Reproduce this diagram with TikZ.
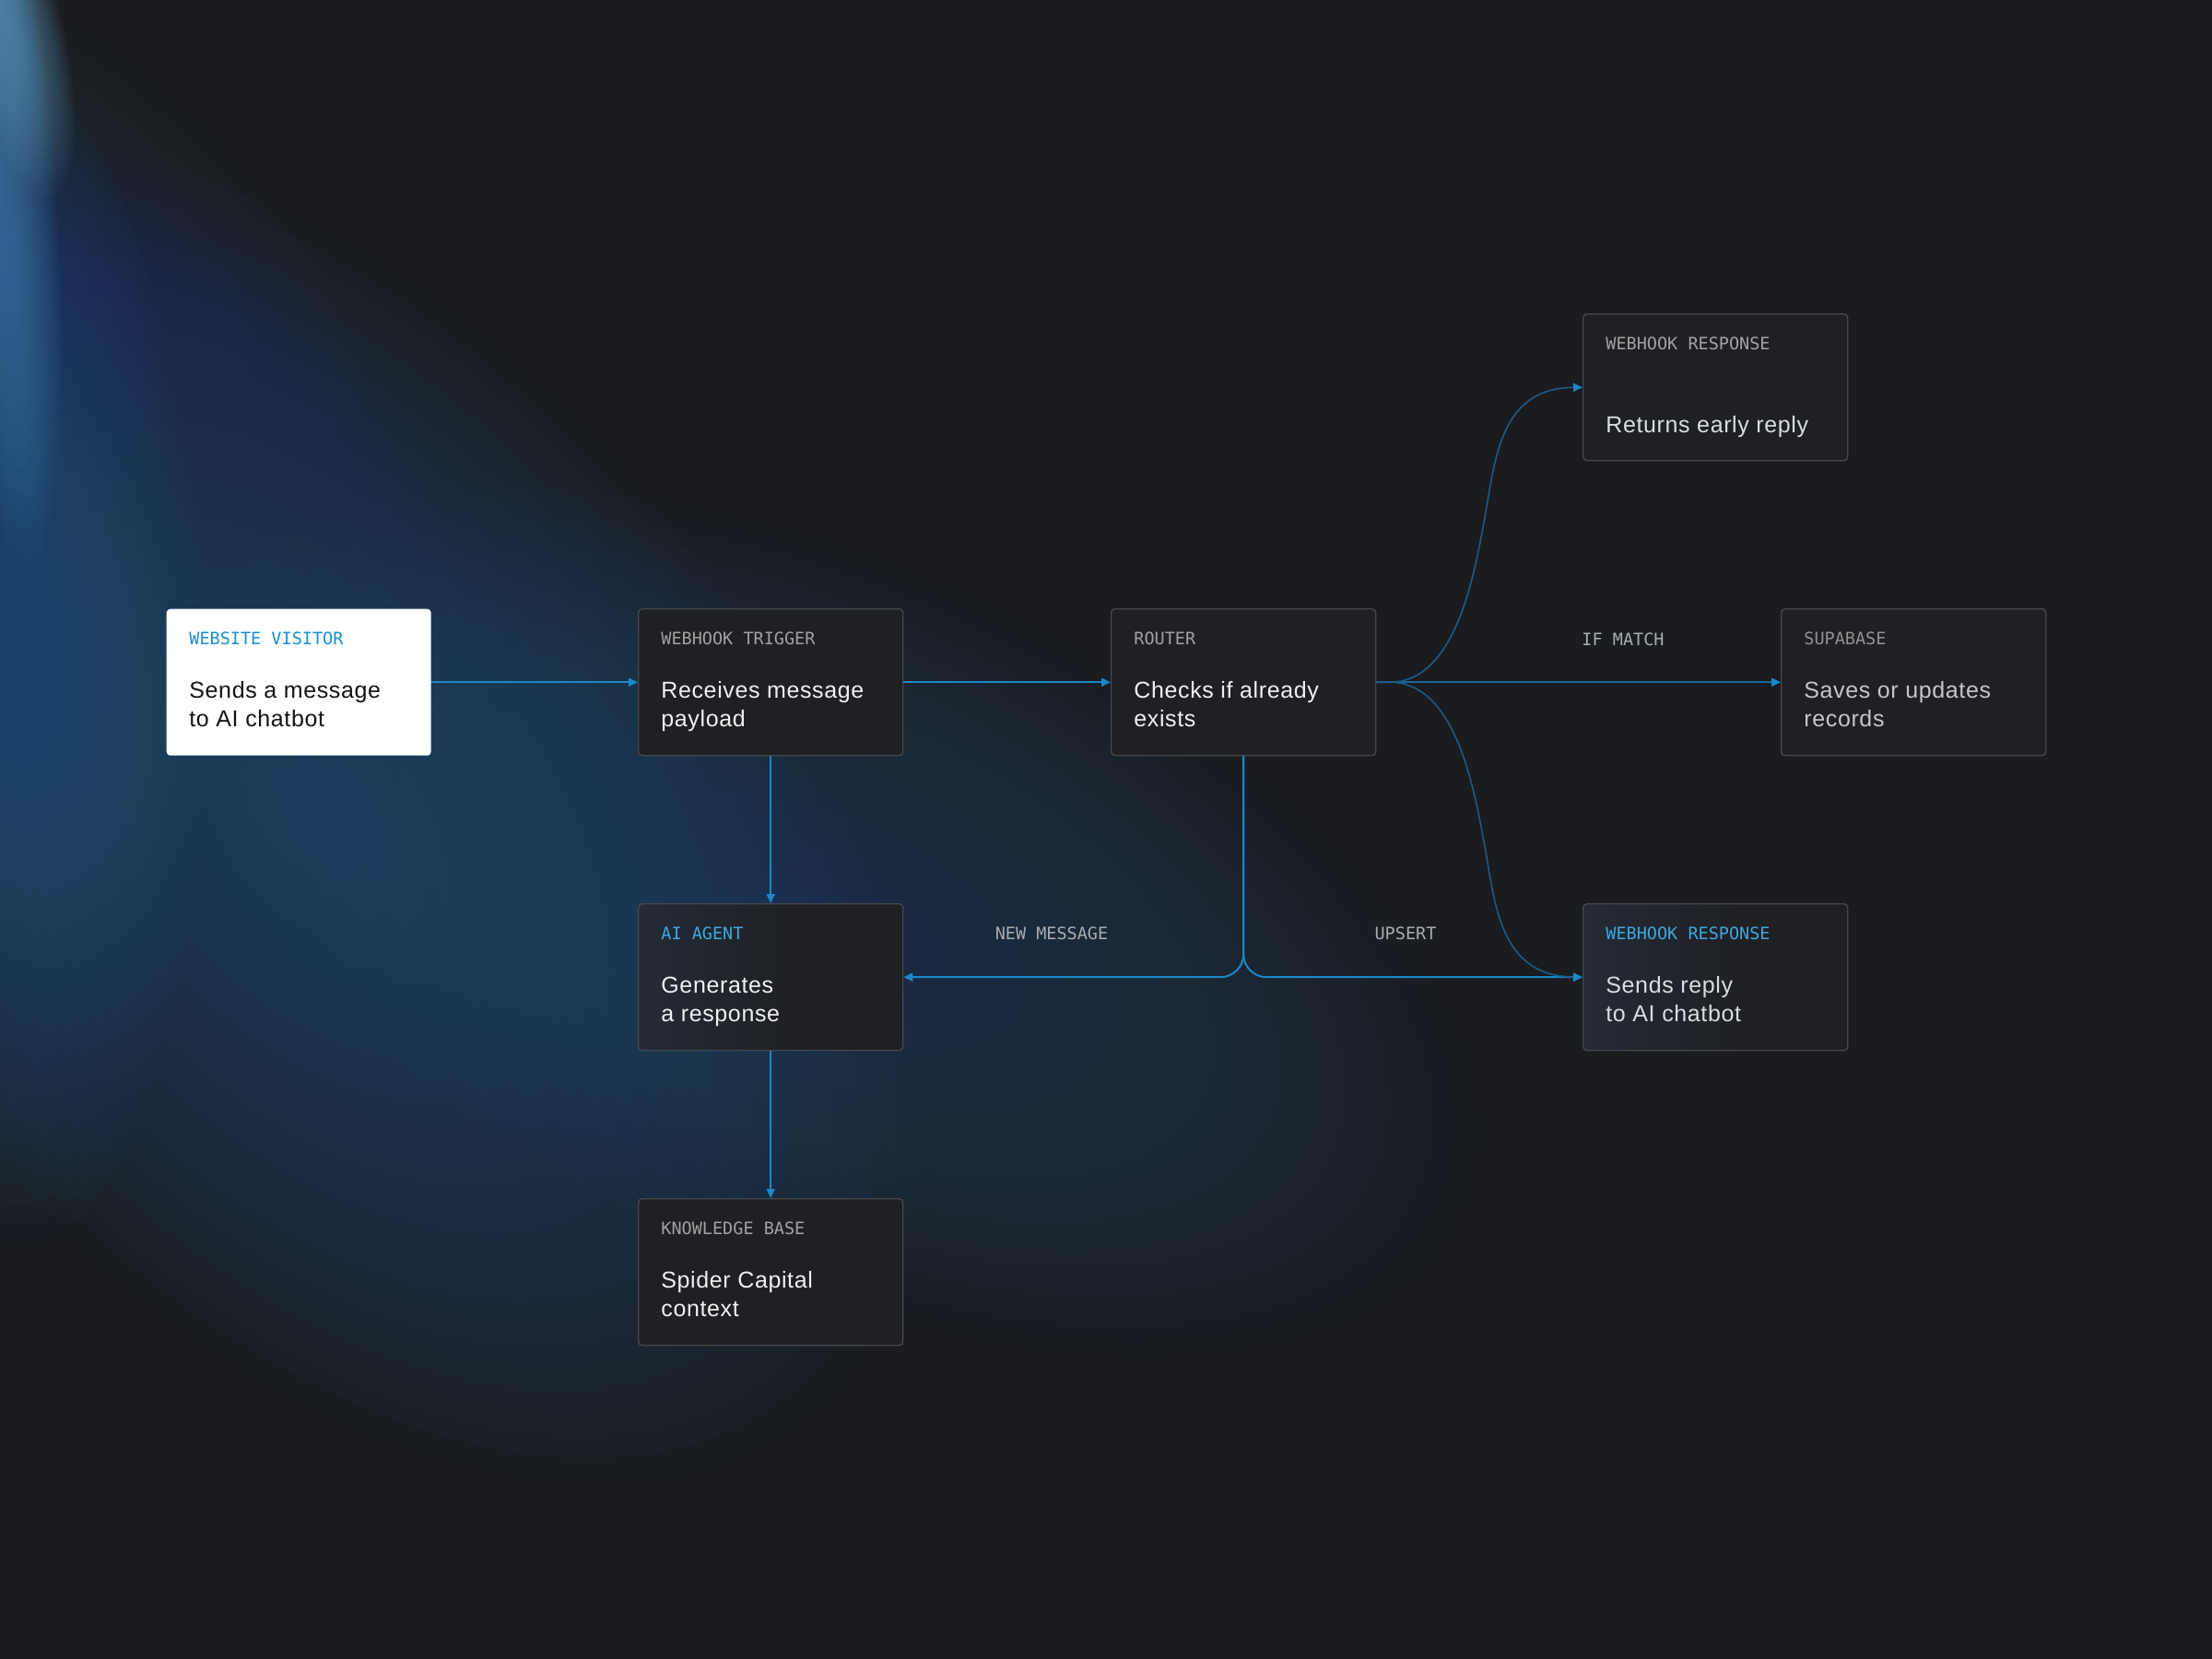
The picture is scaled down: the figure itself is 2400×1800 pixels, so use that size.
\documentclass[tikz,border=0pt]{standalone}
\usepackage{fontspec}
\setmainfont[LetterSpace=2.5]{Liberation Sans}
\newfontfamily\labfont{DejaVu Sans Mono}
\usetikzlibrary{arrows.meta}

\definecolor{bgc}{HTML}{1A1C20}
\definecolor{glowMid}{HTML}{1A2A34}
\definecolor{glowDiag}{HTML}{1A4260}
\definecolor{glowBeam}{HTML}{1A5480}
\definecolor{glowCol}{HTML}{1E5886}
\definecolor{glowTop}{HTML}{1A4C74}
\definecolor{glowEdge}{HTML}{4A8AC0}
\definecolor{glowCorner}{HTML}{6AA4D0}
\definecolor{cardfill}{HTML}{1F2023}
\definecolor{cardline}{HTML}{45474C}
\definecolor{cgA}{HTML}{2E4460}
\definecolor{cgB}{HTML}{232D3A}
\definecolor{labgray}{HTML}{A2A2A2}
\definecolor{labblue}{HTML}{1A8FD0}
\definecolor{labcyan}{HTML}{3FA6E0}
\definecolor{txtwhite}{HTML}{F0F0F0}
\definecolor{txtsoft}{HTML}{DADDE0}
\definecolor{txtdim}{HTML}{C6C6C6}
\definecolor{txtblk}{HTML}{151515}
\definecolor{connc}{HTML}{1A88C8}
\definecolor{conndim}{HTML}{1E6698}
\definecolor{curvec}{HTML}{1D5A88}
\definecolor{elabc}{HTML}{A8ACB0}

\pgfdeclarehorizontalshading{cardglow}{100bp}{color(0bp)=(cgA); color(20bp)=(cgB); color(55bp)=(cardfill); color(100bp)=(cardfill)}

\newcommand{\cardtext}[2]{\begin{tabular}[t]{@{}l@{}}#1\\#2\end{tabular}}
% soft glow: centre x, centre y, x radius, y radius, angle, colour
\newcommand{\softglow}[7]{%
  \foreach \k in {1,...,30}{%
    \fill[#6, fill opacity=#7, rotate around={#5:(#1,#2)}] (#1,#2) ellipse [x radius={#3/30*\k}, y radius={#4/30*\k}];
  }%
}

\begin{document}
\begin{tikzpicture}[x=0.5pt,y=-0.5pt,
  card/.style={draw=cardline, line width=0.7pt, fill=cardfill, rounded corners=2pt,
    minimum width=143.5pt, minimum height=79.5pt, inner sep=0pt, anchor=north west},
  whitecard/.style={card, draw=none, fill=white},
  glowcard/.style={card, shade, shading=cardglow},
  lab/.style={anchor=base west, inner sep=0pt, font=\labfont\fontsize{9.25}{11}\selectfont, text=labgray},
  body/.style={anchor=base west, inner sep=0pt, font=\fontsize{12.5}{15.5}\selectfont, text=txtwhite},
  elab/.style={anchor=base, inner sep=0pt, font=\labfont\fontsize{9.25}{11}\selectfont, text=elabc},
  conn/.style={draw=connc, line width=1pt, -{Triangle[length=5pt,width=4.5pt]}},
  dimconn/.style={draw=conndim, line width=1pt, -{Triangle[length=5pt,width=4.5pt,color=connc]}},
  curve/.style={draw=curvec, line width=0.8pt, -{Triangle[length=5pt,width=4.5pt,color=connc]}}
]
\useasboundingbox (0,0) rectangle (2400,1800);
\clip (0,0) rectangle (2400,1800);
\fill[bgc] (0,0) rectangle (2400,1800);
% background glow
\softglow{1400}{1050}{1100}{600}{0}{glowMid}{0.04}
\softglow{900}{1000}{750}{380}{-25}{glowDiag}{0.04}
\softglow{330}{880}{850}{500}{-50}{glowBeam}{0.04}
\softglow{150}{420}{520}{230}{-55}{glowTop}{0.025}
\softglow{0}{700}{650}{220}{-88}{glowCol}{0.04}
\softglow{0}{200}{420}{60}{-86}{glowEdge}{0.04}
\softglow{0}{0}{220}{60}{-75}{glowCorner}{0.04}

% cards
\node[whitecard] (vis) at (180,660) {};
\node[card] (trig) at (692,660) {};
\node[card] (rout) at (1205,660) {};
\node[card] (wrt) at (1717,340) {};
\node[card] (supa) at (1932,660) {};
\node[glowcard] (agent) at (692,980) {};
\node[glowcard] (wrb) at (1717,980) {};
\node[card] (kb) at (692,1300) {};

% texts
\node[lab, text=labblue] (visL) at ([shift={(25,39)}]vis.north west) {WEBSITE VISITOR};
\node[body, text=txtblk] (visT) at ([shift={(25,97)}]vis.north west) {\cardtext{Sends a message}{to AI chatbot}};

\node[lab] (trigL) at ([shift={(25,39)}]trig.north west) {WEBHOOK TRIGGER};
\node[body] (trigT) at ([shift={(25,97)}]trig.north west) {\cardtext{Receives message}{payload}};

\node[lab] (routL) at ([shift={(25,39)}]rout.north west) {ROUTER};
\node[body] (routT) at ([shift={(25,97)}]rout.north west) {\cardtext{Checks if already}{exists}};

\node[lab] (wrtL) at ([shift={(25,39)}]wrt.north west) {WEBHOOK RESPONSE};
\node[body, text=txtsoft] (wrtT) at ([shift={(25,129)}]wrt.north west) {Returns early reply};

\node[lab, text=labgray!90!black] (supaL) at ([shift={(25,39)}]supa.north west) {SUPABASE};
\node[body, text=txtdim] (supaT) at ([shift={(25,97)}]supa.north west) {\cardtext{Saves or updates}{records}};

\node[lab, text=labcyan] (agentL) at ([shift={(25,39)}]agent.north west) {AI AGENT};
\node[body] (agentT) at ([shift={(25,97)}]agent.north west) {\cardtext{Generates}{a response}};

\node[lab, text=labcyan] (wrbL) at ([shift={(25,39)}]wrb.north west) {WEBHOOK RESPONSE};
\node[body, text=txtsoft] (wrbT) at ([shift={(25,97)}]wrb.north west) {\cardtext{Sends reply}{to AI chatbot}};

\node[lab] (kbL) at ([shift={(25,39)}]kb.north west) {KNOWLEDGE BASE};
\node[body] (kbT) at ([shift={(25,97)}]kb.north west) {\cardtext{Spider Capital}{context}};

% edge labels
\node[elab] (lnew) at (1141,1019) {NEW MESSAGE};
\node[elab] (lups) at (1525,1019) {UPSERT};
\node[elab] (lif) at (1761,700) {IF MATCH};

% connectors
\draw[conn] (vis.east) -- (trig.west);
\draw[conn] (trig.east) -- (rout.west);
\draw[conn] (trig.south) -- (agent.north);
\draw[conn] (agent.south) -- (kb.north);
\draw[conn, rounded corners=12.5pt] (rout.south) |- (agent.east);
\draw[conn, rounded corners=12.5pt] (rout.south) |- (wrb.west);
\draw[dimconn] (rout.east) -- (supa.west);
\coordinate (fan) at ([xshift=7.5pt]rout.east);
\draw[curve] (rout.east) -- (fan) .. controls (1580,740) and (1600,620) .. (1610,567) .. controls (1622,503) and (1625,421) .. (wrt.west);
\draw[curve] (rout.east) -- (fan) .. controls (1580,740) and (1600,860) .. (1610,913) .. controls (1622,977) and (1625,1059) .. (wrb.west);
\end{tikzpicture}
\end{document}
